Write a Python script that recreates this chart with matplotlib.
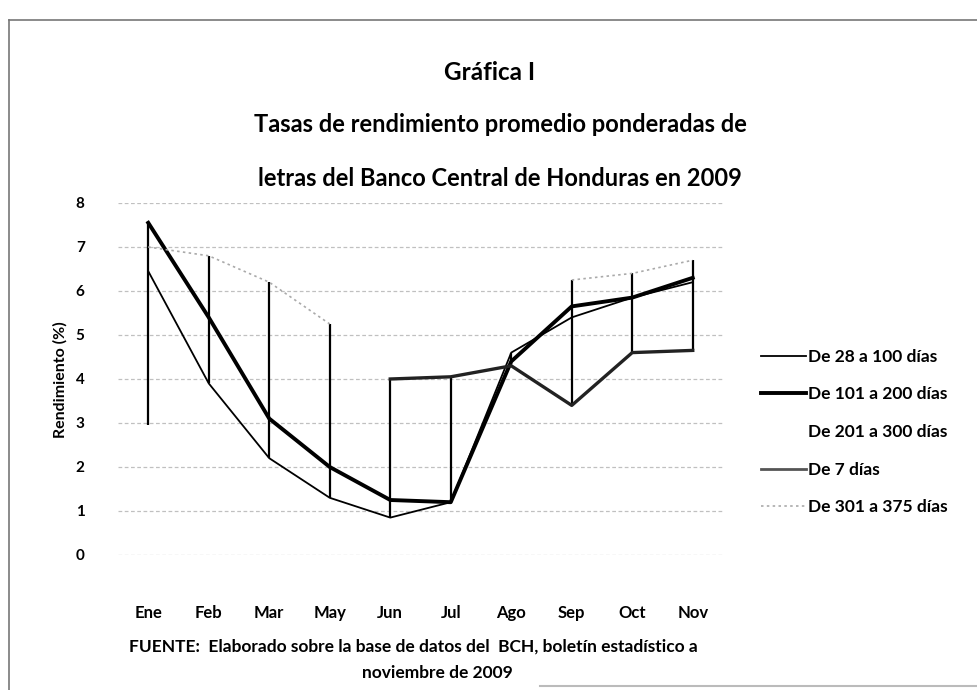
import matplotlib
matplotlib.use("Agg")
import matplotlib.pyplot as plt
from matplotlib.lines import Line2D
import numpy as np

# Datos (rendimiento %)
meses = ["Ene", "Feb", "Mar", "May", "Jun", "Jul", "Ago", "Sep", "Oct", "Nov"]
nan = np.nan
de28a100 = [6.45, 3.9, 2.2, 1.3, 0.85, 1.2, 4.6, 5.4, 5.85, 6.2]
de101a200 = [7.55, 5.4, 3.1, 2.0, 1.25, 1.2, 4.4, 5.65, 5.85, 6.3]
de201a300 = [2.95, nan, nan, nan, nan, nan, nan, nan, nan, nan]
de7 = [nan, nan, nan, nan, 4.0, 4.05, 4.3, 3.4, 4.6, 4.65]
de301a375 = [7.0, 6.8, 6.2, 5.25, nan, nan, nan, 6.25, 6.4, 6.7]

etiquetas = ["De 28 a 100 días", "De 101 a 200 días", "De 201 a 300 días",
             "De 7 días", "De 301 a 375 días"]

plt.rcParams['font.family'] = ['Lato', 'DejaVu Sans']

fig = plt.figure(figsize=(9.77, 6.9), dpi=100)
W, H = 977.0, 690.0

def fx(px):
    return px / W

def fy(py):
    return 1 - py / H

ax = fig.add_axes([fx(118), fy(555), fx(723) - fx(118), fy(203) - fy(555)])

x = np.arange(len(meses))

# lineas de maximo y minimo por mes
todas = np.array([de28a100, de101a200, de201a300, de7, de301a375])
ax.vlines(x, np.nanmin(todas, axis=0), np.nanmax(todas, axis=0), color="black", lw=1.6, zorder=2)

ax.plot(x, de28a100, color="black", lw=1.3, zorder=3)
ax.plot(x, de101a200, color="black", lw=2.8, zorder=3)
ax.plot(x, de201a300, color="white", lw=1.5, zorder=3)
ax.plot(x, de7, color="#222222", lw=2.4, zorder=3)
ax.plot(x, de301a375, color="#aaaaaa", lw=1.2, ls=(0, (1.5, 2)), zorder=3)

ax.set_xlim(-0.5, len(meses) - 0.5)
ax.set_ylim(0, 8)
ax.set_yticks(range(0, 9))
ax.set_xticks(x)
ax.set_xticklabels(meses, fontsize=12, fontweight="bold")
ax.set_yticklabels([str(v) for v in range(0, 9)], fontsize=11, fontweight="bold")
ax.tick_params(axis="both", length=0)
ax.tick_params(axis="x", pad=36)
ax.tick_params(axis="y", pad=24)
ax.yaxis.grid(True, color="#c0c0c0", lw=0.9, ls=(0, (3, 2)))
ax.set_axisbelow(True)
for s in ax.spines.values():
    s.set_visible(False)

fig.text(fx(60), fy(380), "Rendimiento (%)", rotation=90, ha="center", va="center",
         fontsize=11.5, fontweight="bold")

# titulos
fig.text(fx(490), fy(72), "Gráfica I", ha="center", va="center", fontsize=17.5, fontweight="bold")
fig.text(fx(500), fy(125), "Tasas de rendimiento promedio ponderadas de", ha="center", va="center",
         fontsize=17, fontweight="bold")
fig.text(fx(500), fy(178), "letras del Banco Central de Honduras en 2009", ha="center", va="center",
         fontsize=17, fontweight="bold")

# leyenda
handles = [
    Line2D([], [], color="black", lw=1.3),
    Line2D([], [], color="black", lw=2.8),
    Line2D([], [], color="white", lw=1.5),
    Line2D([], [], color="#555555", lw=2.0),
    Line2D([], [], color="#aaaaaa", lw=1.2, ls=(0, (1.5, 2))),
]
fig.legend(handles, etiquetas, loc="center left", bbox_to_anchor=(fx(745), fy(432)),
           frameon=False, handlelength=2.6, handletextpad=0.1, labelspacing=1.25,
           prop={"size": 12.5, "weight": "bold"})

# fuente
fig.text(fx(413), fy(647), "FUENTE:  Elaborado sobre la base de datos del  BCH, boletín estadístico a",
         ha="center", va="center", fontsize=12.5, fontweight="bold")
fig.text(fx(437), fy(673), "noviembre de 2009", ha="center", va="center", fontsize=12.5, fontweight="bold")

# borde del recuadro escaneado
fig.add_artist(Line2D([fx(9), fx(9)], [fy(20), fy(690)], color="#777777", lw=1.2))
fig.add_artist(Line2D([fx(9), fx(977)], [fy(20), fy(20)], color="#777777", lw=1.2))
fig.add_artist(Line2D([fx(540), fx(977)], [fy(686), fy(686)], color="#bbbbbb", lw=1.5))

fig.savefig("out.png", dpi=100)
